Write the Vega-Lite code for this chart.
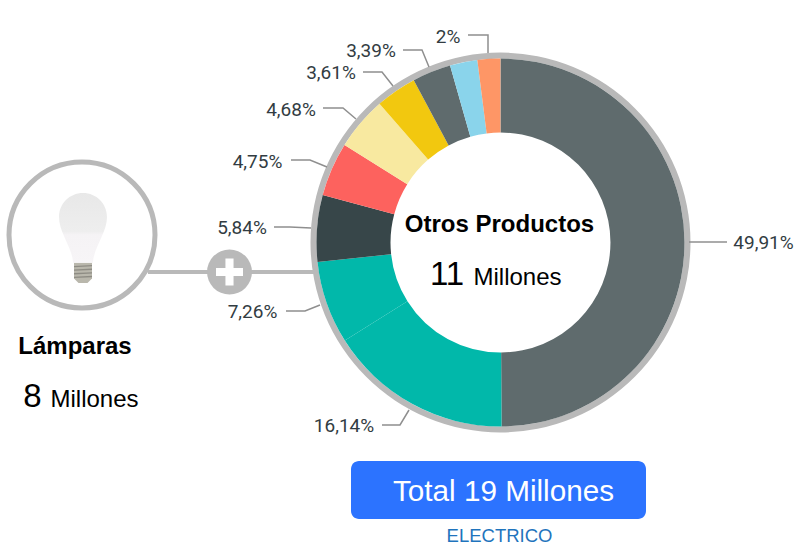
{
  "$schema": "https://vega.github.io/schema/vega-lite/v6.json",
  "width": 796, "height": 547, "padding": 0,
  "autosize": {"type": "none"},
  "background": "white",
  "config": {"view": {"stroke": null}},
  "datasets": {
    "slices": [
      {"i": 1, "cat": "49,91%", "v": 49.91},
      {"i": 2, "cat": "16,14%", "v": 16.14},
      {"i": 3, "cat": "7,26%", "v": 7.26},
      {"i": 4, "cat": "5,84%", "v": 5.84},
      {"i": 5, "cat": "4,75%", "v": 4.75},
      {"i": 6, "cat": "4,68%", "v": 4.68},
      {"i": 7, "cat": "3,61%", "v": 3.61},
      {"i": 8, "cat": "3,39%", "v": 3.39},
      {"i": 9, "cat": "otro", "v": 2.41},
      {"i": 10, "cat": "2%", "v": 2}
    ],
    "labels": [
      {"t": "49,91%", "x": 763.5, "y": 243},
      {"t": "16,14%", "x": 344, "y": 426},
      {"t": "7,26%", "x": 252.5, "y": 312},
      {"t": "5,84%", "x": 242, "y": 228},
      {"t": "4,75%", "x": 257.5, "y": 162},
      {"t": "4,68%", "x": 291, "y": 110},
      {"t": "3,61%", "x": 331, "y": 73},
      {"t": "3,39%", "x": 371, "y": 51},
      {"t": "2%", "x": 448, "y": 37}
    ],
    "leaders": [
      {"k": "49,91%", "o": 1, "x": 689, "y": 242}, {"k": "49,91%", "o": 2, "x": 727, "y": 242},
      {"k": "16,14%", "o": 1, "x": 409, "y": 410}, {"k": "16,14%", "o": 2, "x": 400, "y": 425}, {"k": "16,14%", "o": 3, "x": 382, "y": 425},
      {"k": "7,26%", "o": 1, "x": 320, "y": 305}, {"k": "7,26%", "o": 2, "x": 305, "y": 311}, {"k": "7,26%", "o": 3, "x": 286, "y": 311},
      {"k": "5,84%", "o": 1, "x": 311, "y": 228}, {"k": "5,84%", "o": 2, "x": 290, "y": 227}, {"k": "5,84%", "o": 3, "x": 274, "y": 227},
      {"k": "4,75%", "o": 1, "x": 327, "y": 167}, {"k": "4,75%", "o": 2, "x": 310, "y": 160}, {"k": "4,75%", "o": 3, "x": 291, "y": 160},
      {"k": "4,68%", "o": 1, "x": 356, "y": 119}, {"k": "4,68%", "o": 2, "x": 343, "y": 108}, {"k": "4,68%", "o": 3, "x": 323, "y": 108},
      {"k": "3,61%", "o": 1, "x": 393, "y": 86}, {"k": "3,61%", "o": 2, "x": 382, "y": 72}, {"k": "3,61%", "o": 3, "x": 363, "y": 72},
      {"k": "3,39%", "o": 1, "x": 429, "y": 67}, {"k": "3,39%", "o": 2, "x": 422, "y": 50}, {"k": "3,39%", "o": 3, "x": 403, "y": 50},
      {"k": "2%", "o": 1, "x": 488, "y": 53}, {"k": "2%", "o": 2, "x": 488, "y": 35}, {"k": "2%", "o": 3, "x": 468, "y": 35}
    ]
  },
  "layer": [
    {
      "data": {"values": [{"v": 100}]},
      "mark": {"type": "arc", "radius": 190, "radius2": 184, "fill": "#b9b9b9"},
      "encoding": {"theta": {"field": "v", "type": "quantitative", "stack": true, "scale": {"domain": [0, 100]}}, "x": {"value": 500.5}, "y": {"value": 242.5}}
    },
    {
      "data": {"name": "slices"},
      "mark": {"type": "arc", "radius": 184, "radius2": 110},
      "encoding": {
        "theta": {"field": "v", "type": "quantitative", "stack": true, "scale": {"domain": [0, 100]}},
        "order": {"field": "i", "type": "quantitative"},
        "x": {"value": 500.5}, "y": {"value": 242.5},
        "color": {
          "field": "cat", "type": "nominal", "legend": null,
          "scale": {
            "domain": ["49,91%", "16,14%", "7,26%", "5,84%", "4,75%", "4,68%", "3,61%", "3,39%", "otro", "2%"],
            "range": ["#5f6b6d", "#01b8aa", "#01b8aa", "#374649", "#fd625e", "#f8e9a0", "#f2c80f", "#5f6b6d", "#8ad4eb", "#fe9666"]
          }
        }
      }
    },
    {
      "encoding": {
        "x": {"field": "x", "type": "quantitative", "axis": null, "scale": {"domain": [0, 796], "nice": false, "zero": false}},
        "y": {"field": "y", "type": "quantitative", "axis": null, "scale": {"domain": [547, 0], "nice": false, "zero": false}}
      },
      "layer": [
        {
          "data": {"name": "leaders"},
          "mark": {"type": "line", "color": "#8f8f8f", "strokeWidth": 1.5, "interpolate": "linear"},
          "encoding": {"detail": {"field": "k"}, "order": {"field": "o", "type": "quantitative"}}
        },
        {
          "data": {"name": "labels"},
          "mark": {"type": "text", "font": "Roboto", "fontSize": 19, "fill": "#323c42", "align": "center", "baseline": "middle"},
          "encoding": {"text": {"field": "t"}}
        },
        {
          "data": {"values": [{"s": "a", "o": 1, "x": 148, "y": 272}, {"s": "a", "o": 2, "x": 314, "y": 272}]},
          "mark": {"type": "line", "color": "#b9b9b9", "strokeWidth": 4},
          "encoding": {"order": {"field": "o", "type": "quantitative"}}
        },
        {
          "data": {"values": [{"x": 229.5, "y": 272}]},
          "mark": {"type": "point", "shape": "circle", "filled": true, "fill": "#b9b9b9", "size": 2025, "opacity": 1}
        },
        {
          "data": {"values": [{"x": 229.5, "y": 272}]},
          "mark": {"type": "point", "filled": true, "fill": "white", "size": 729, "opacity": 1, "shape": "M-0.3,-1 L0.3,-1 L0.3,-0.3 L1,-0.3 L1,0.3 L0.3,0.3 L0.3,1 L-0.3,1 L-0.3,0.3 L-1,0.3 L-1,-0.3 L-0.3,-0.3 Z"}
        },
        {
          "data": {"values": [{"x": 82, "y": 235}]},
          "mark": {"type": "point", "shape": "circle", "filled": false, "stroke": "#b9b9b9", "strokeWidth": 5, "size": 21316, "opacity": 1}
        },
        {
          "data": {"values": [{"x": 83, "y": 238}]},
          "mark": {"type": "point", "filled": true, "opacity": 1, "size": 8100, "fill": "#b9b7ac", "shape": "M-0.2,0.55 L0.2,0.55 L0.2,0.9 L0.1,1 L-0.1,1 L-0.2,0.9 Z"}
        },
        {
          "data": {"values": [{"x": 83, "y": 238}]},
          "mark": {"type": "point", "filled": true, "opacity": 1, "size": 8100, "fill": "#8e8c84", "shape": "M-0.2,0.62 L0.2,0.6 L0.2,0.63 L-0.2,0.65 Z M-0.2,0.7 L0.2,0.68 L0.2,0.71 L-0.2,0.73 Z M-0.2,0.78 L0.2,0.76 L0.2,0.79 L-0.2,0.81 Z M-0.2,0.86 L0.2,0.84 L0.2,0.87 L-0.2,0.89 Z"}
        },
        {
          "data": {"values": [{"x": 83, "y": 238}]},
          "mark": {
            "type": "point", "filled": true, "opacity": 1, "size": 8100,
            "fill": {"gradient": "linear", "x1": 0, "y1": 0, "x2": 0, "y2": 1, "stops": [{"offset": 0, "color": "#e8e8e8"}, {"offset": 0.55, "color": "#eeeeee"}, {"offset": 0.6, "color": "#f5f3f5"}, {"offset": 1, "color": "#f7f5f7"}]},
            "shape": "M0,-1 C-0.3,-1 -0.533,-0.76 -0.533,-0.467 C-0.533,-0.12 -0.24,0.2 -0.22,0.55 L0.22,0.55 C0.24,0.2 0.533,-0.12 0.533,-0.467 C0.533,-0.76 0.3,-1 0,-1 Z"
          }
        },
        {
          "data": {"values": [{"x": 351, "x2": 646, "y": 461, "y2": 519}]},
          "mark": {"type": "rect", "fill": "#2c73ff", "cornerRadius": 8},
          "encoding": {"x2": {"field": "x2"}, "y2": {"field": "y2"}}
        },
        {
          "data": {"values": [{"t": "Otros Productos", "x": 499.5, "y": 224.5}, {"t": "Lámparas", "x": 75, "y": 346.5}]},
          "mark": {"type": "text", "font": "Liberation Sans", "fontWeight": "bold", "fontSize": 24, "fill": "black", "align": "center", "baseline": "middle"},
          "encoding": {"text": {"field": "t"}}
        },
        {
          "data": {"values": [{"t": "11", "x": 447, "y": 275}, {"t": "8", "x": 32.5, "y": 397}]},
          "mark": {"type": "text", "font": "Liberation Sans", "fontSize": 33, "fill": "black", "align": "center", "baseline": "middle"},
          "encoding": {"text": {"field": "t"}}
        },
        {
          "data": {"values": [{"t": "Millones", "x": 517.5, "y": 278}, {"t": "Millones", "x": 94.5, "y": 399.5}]},
          "mark": {"type": "text", "font": "Liberation Sans", "fontSize": 24, "fill": "black", "align": "center", "baseline": "middle"},
          "encoding": {"text": {"field": "t"}}
        },
        {
          "data": {"values": [{"t": "Total 19 Millones", "x": 503.5, "y": 491.5}]},
          "mark": {"type": "text", "font": "Liberation Sans", "fontSize": 29.7, "fill": "white", "align": "center", "baseline": "middle"},
          "encoding": {"text": {"field": "t"}}
        },
        {
          "data": {"values": [{"t": "ELECTRICO", "x": 499.5, "y": 536}]},
          "mark": {"type": "text", "font": "Liberation Sans", "fontSize": 18.5, "fill": "#1f74bd", "align": "center", "baseline": "middle"},
          "encoding": {"text": {"field": "t"}}
        }
      ]
    }
  ]
}
